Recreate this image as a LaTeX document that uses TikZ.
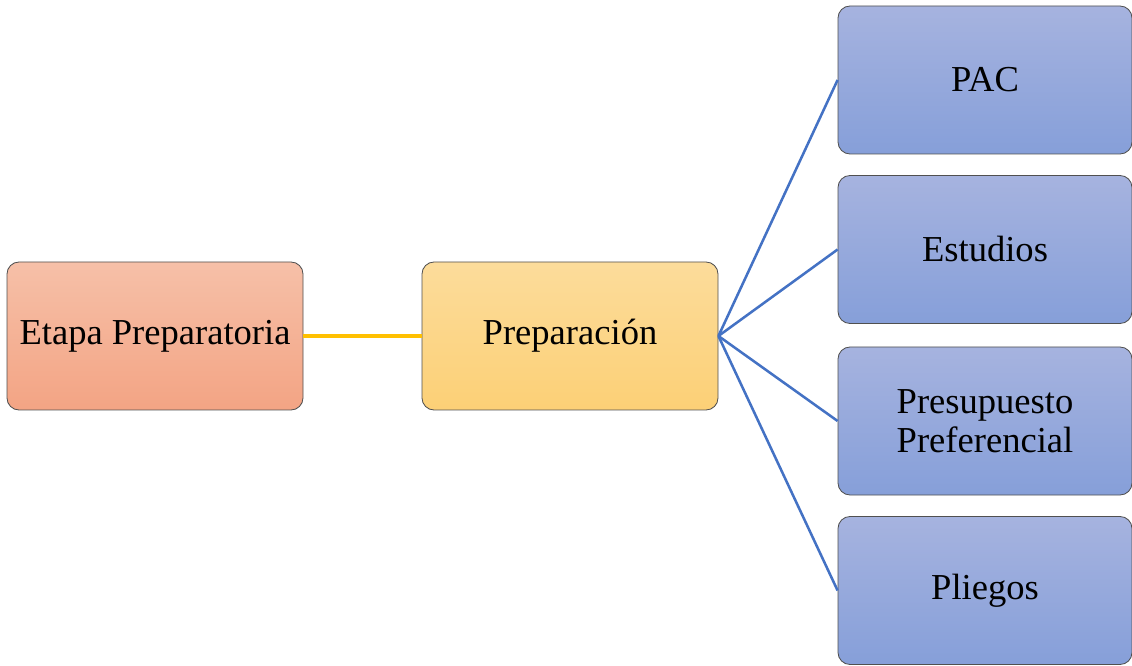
\documentclass[tikz,border=0pt]{standalone}
\usepackage{fontspec}
\setmainfont{Liberation Serif}
\usepackage{tikz}
\usetikzlibrary{calc}
\usepackage{xcolor}
\definecolor{salmonTop}{RGB}{246,192,168}
\definecolor{salmonBot}{RGB}{243,164,132}
\definecolor{goldTop}{RGB}{252,220,155}
\definecolor{goldBot}{RGB}{252,208,118}
\definecolor{blueTop}{RGB}{166,179,223}
\definecolor{blueBot}{RGB}{134,159,217}
\definecolor{edgeGray}{RGB}{80,80,80}
\definecolor{linkBlue}{RGB}{68,114,196}
\definecolor{linkGold}{RGB}{255,192,0}

\begin{document}
\begin{tikzpicture}[every node/.style={draw=edgeGray,line width=0.6pt,rounded corners=0.3cm,font=\fontsize{26}{28}\selectfont,align=center}]
\tikzstyle{box}=[minimum width=7.4cm,minimum height=3.7cm]
\tikzstyle{leaf}=[minimum width=7.35cm,minimum height=3.7cm,top color=blueTop,bottom color=blueBot]
\tikzstyle{link}=[line width=1.8pt,color=linkBlue]

\useasboundingbox (0,0) rectangle (28.3,16.625);

\node (etapa) [box,top color=salmonTop,bottom color=salmonBot] at (3.875,8.225) {Etapa Preparatoria};
\node (prep) [box,top color=goldTop,bottom color=goldBot] at (14.25,8.225) {Preparación};

\node (pac) [leaf] at (24.625,14.625) {PAC};
\node (estudios) [leaf] at (24.625,10.3875) {Estudios};
\node (presupuesto) [leaf] at (24.625,6.1) {Presupuesto\\Preferencial};
\node (pliegos) [leaf] at (24.625,1.8625) {Pliegos};

\draw [line width=2.2pt,color=linkGold] (etapa.east) -- (prep.west);

\foreach \n in {pac,estudios,presupuesto,pliegos}
   \draw [link] (prep.east) -- (\n.west);

\end{tikzpicture}
\end{document}
